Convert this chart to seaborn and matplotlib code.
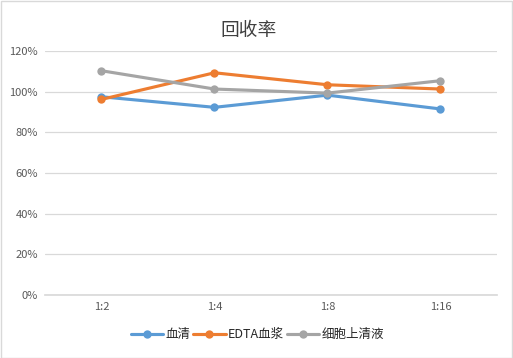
import matplotlib
matplotlib.use("Agg")
import matplotlib.pyplot as plt
import pandas as pd
import seaborn as sns
from matplotlib.patches import Rectangle
from matplotlib.ticker import PercentFormatter

# 数据
dilutions = ["1:2", "1:4", "1:8", "1:16"]
serum = [0.975, 0.923, 0.983, 0.915]
edta_plasma = [0.962, 1.093, 1.034, 1.013]
cell_supernatant = [1.103, 1.013, 0.993, 1.054]
series_names = ["血清", "EDTA血浆", "细胞上清液"]
colors = ["#5B9BD5", "#ED7D31", "#A5A5A5"]

df = pd.DataFrame({
    "dilution": dilutions * 3,
    "value": serum + edta_plasma + cell_supernatant,
    "series": [s for s in series_names for _ in dilutions],
})

sns.set_theme(style="white")
plt.rcParams["font.family"] = ["Noto Sans CJK SC", "DejaVu Sans"]

fig = plt.figure(figsize=(5.13, 3.58), dpi=100)
ax = fig.add_axes([0.0877, 0.176, 0.881, 0.6815])

sns.lineplot(
    data=df, x="dilution", y="value", hue="series", palette=colors,
    marker="o", markersize=6, markeredgewidth=0, linewidth=2.25,
    sort=False, ax=ax,
)

ax.set_ylim(0, 1.2)
ax.set_xlim(-0.5, 3.5)
ax.set_yticks([0, 0.2, 0.4, 0.6, 0.8, 1.0, 1.2])
ax.yaxis.set_major_formatter(PercentFormatter(1.0, decimals=0))
ax.grid(axis="y", color="#D9D9D9", linewidth=0.9)
ax.set_axisbelow(True)
for side in ["left", "right", "top"]:
    ax.spines[side].set_visible(False)
ax.spines["bottom"].set_color("#D9D9D9")
ax.tick_params(axis="both", length=0, labelsize=8, labelcolor="#595959", pad=5)
ax.set_xlabel("")
ax.set_ylabel("")

fig.suptitle("回收率", x=0.485, y=0.945, fontsize=13.5, color="#404040")

handles, labels = ax.get_legend_handles_labels()
ax.legend(
    handles, labels, loc="upper center", bbox_to_anchor=(0.47, -0.09),
    ncol=3, frameon=False, fontsize=9, labelcolor="#262626",
    handlelength=2.6, handletextpad=0.2, columnspacing=0.2,
)

fig.patches.append(Rectangle((0.001, 0.001), 0.997, 0.997, transform=fig.transFigure,
                             fill=False, edgecolor="#D9D9D9", linewidth=1))

fig.savefig("out.png", dpi=100)
